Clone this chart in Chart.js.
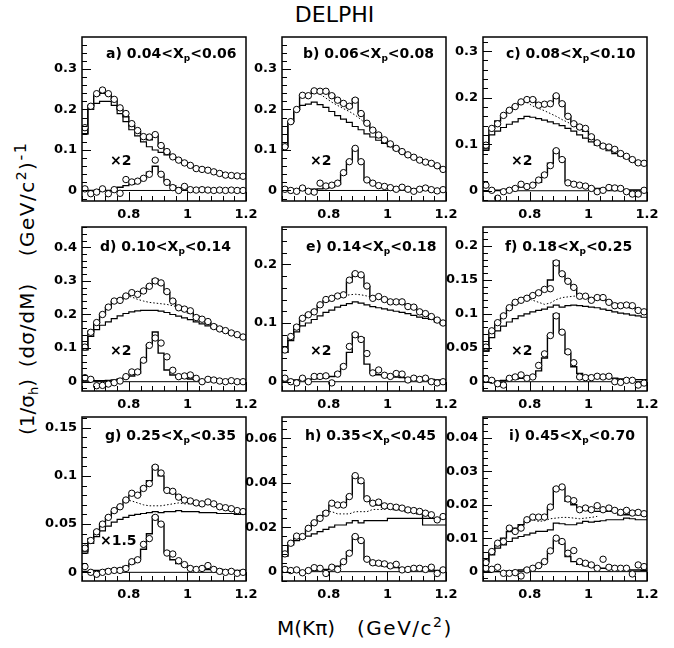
<!DOCTYPE html>
<html>
<head>
<meta charset="utf-8">
<script src="https://cdn.jsdelivr.net/npm/chart.js@4.4.1/dist/chart.umd.min.js"></script>
<style>
  body { margin: 0; background: #fff; }
  #page { position: relative; width: 674px; height: 648px; overflow: hidden; font-family: "DejaVu Sans", sans-serif; color: #000; }
  #page canvas { position: absolute; }
  .txt { position: absolute; white-space: nowrap; line-height: 1; }
  .lab { font-weight: bold; font-size: 14px; }
  .lab .sub { font-size: 9px; position: relative; top: 3px; }
  .big { font-size: 20px; }
  .big .sup { font-size: 14px; position: relative; top: -8px; }
  .big .sub { font-size: 13px; position: relative; top: 4px; }
  .rot { left: 27px; transform: translate(-50%, -50%) rotate(-90deg); }
</style>
</head>
<body>
<div id="page">
  <div class="txt" style="left:0;width:669px;text-align:center;top:4px;font-size:22px">DELPHI</div>
  <div class="txt big" style="left:277px;top:618px">M(Kπ)<span style="margin-left:22px;letter-spacing:1.5px">(GeV/c<span class="sup">2</span>)</span></div>
  <div class="txt big rot" style="top:407px">(1/σ<span class="sub">h</span>)</div>
  <div class="txt big rot" style="top:325px;letter-spacing:1px">(dσ/dM)</div>
  <div class="txt big rot" style="top:199px;letter-spacing:1.5px">(GeV/c<span class="sup">2</span>)<span class="sup" style="font-size:16px">-1</span></div>
</div>
<script>
const N = null;
const massBins = [0.65,0.67,0.69,0.71,0.73,0.75,0.77,0.79,0.81,0.83,0.85,0.87,0.89,0.91,0.93,0.95,0.97,0.99,1.01,1.03,1.05,1.07,1.09,1.11,1.13,1.15,1.17,1.19];
const binEdges = [0.64,0.66,0.68,0.70,0.72,0.74,0.76,0.78,0.80,0.82,0.84,0.86,0.88,0.90,0.92,0.94,0.96,0.98,1.00,1.02,1.04,1.06,1.08,1.10,1.12,1.14,1.16,1.18,1.20];
const xTicks = [0.8, 1, 1.2];

// a) 0.04<Xp<0.06
const ptsA = [0.155,0.208,0.239,0.248,0.239,0.225,0.204,0.19,0.165,0.148,0.133,0.132,0.138,0.111,0.096,0.083,0.075,0.068,0.062,0.054,0.052,0.05,0.046,0.042,0.038,0.037,0.036,0.035];
const fitA = [0.14,0.21,0.235,0.24,0.238,0.225,0.2,0.182,0.16,0.145,0.13,0.125,0.138,0.11,0.095,0.083,0.075,0.068,0.062,0.056,0.052,0.049,0.046,0.043,0.04,0.038,0.036,0.035];
const bkgA = [0.14,0.2,0.215,0.22,0.22,0.21,0.19,0.17,0.15,0.135,0.12,0.108,0.1,0.094,0.088,0.082,0.075,0.068,0.062,0.056,0.052,0.049,0.046,0.043,0.04,0.038,0.036,0.035];
const dotA = [];
const sigA = [0.004,-0.008,-0.004,0.004,-0.008,0.002,-0.007,0.027,0.021,0.023,0.03,0.04,0.075,0.04,0.02,0.007,0,0.01,0.002,0.001,0.002,0.001,0,0.001,0,0.001,0,0];
const sigFitA = [0,0,0,0,0,0,0.008,0.012,0.016,0.022,0.03,0.045,0.06,0.04,0.022,0.012,0.007,0.004,0.003,0.002,0.002,0.001,0.001,0.001,0,0,0,0];

// b) 0.06<Xp<0.08
const ptsB = [0.108,0.17,0.2,0.235,0.234,0.246,0.245,0.245,0.234,0.223,0.215,0.208,0.223,0.19,0.166,0.149,0.137,0.125,0.115,0.104,0.096,0.088,0.082,0.075,0.07,0.067,0.061,0.052];
const fitB = [0.108,0.17,0.2,0.235,0.238,0.245,0.245,0.244,0.235,0.222,0.213,0.205,0.226,0.19,0.165,0.148,0.135,0.124,0.114,0.104,0.096,0.088,0.082,0.075,0.07,0.065,0.06,0.053];
const bkgB = [0.108,0.17,0.2,0.21,0.213,0.218,0.212,0.205,0.195,0.185,0.176,0.168,0.158,0.15,0.14,0.132,0.124,0.116,0.108,0.1,0.094,0.087,0.081,0.075,0.07,0.065,0.06,0.053];
const dotB = [N,N,N,N,N,N,0.238,0.228,0.218,0.21,0.202,0.195,0.186,0.175,0.162,0.148,0.136,N,N,N,N,N,N,N,N,N,N,N];
const sigB = [0.003,0,-0.002,0.006,-0.002,-0.004,0.018,0.011,0.013,0.018,0.044,0.071,0.104,0.071,0.026,0.018,0.012,0.01,0.007,0.003,0.008,0.003,-0.002,0.003,0.006,0.002,-0.001,0.002];
const sigFitB = [0.001,0.001,0.001,0.002,0.002,0.003,0.004,0.006,0.009,0.015,0.04,0.072,0.104,0.072,0.026,0.018,0.013,0.011,0.009,0.007,0.006,0.005,0.004,0.004,0.003,0.003,0.002,0.002];

// c) 0.08<Xp<0.10
const ptsC = [0.098,0.134,0.144,0.162,0.173,0.181,0.191,0.196,0.196,0.184,0.186,0.187,0.204,0.187,0.16,0.144,0.137,0.134,0.116,0.103,0.096,0.094,0.089,0.08,0.074,0.067,0.06,0.059];
const fitC = [0.09,0.135,0.15,0.16,0.172,0.182,0.19,0.195,0.197,0.185,0.185,0.188,0.205,0.188,0.16,0.145,0.135,0.128,0.118,0.105,0.098,0.092,0.085,0.078,0.072,0.066,0.06,0.057];
const bkgC = [0.087,0.12,0.128,0.136,0.143,0.148,0.155,0.16,0.158,0.155,0.152,0.148,0.144,0.14,0.134,0.128,0.12,0.113,0.105,0.098,0.092,0.086,0.08,0.075,0.07,0.064,0.06,0.057];
const dotC = [N,N,N,N,N,N,N,0.19,0.182,0.177,0.172,0.166,0.16,0.153,0.147,0.14,0.135,N,N,N,N,N,N,N,N,N,N,N];
const sigC = [0.012,0.001,-0.016,-0.002,0.001,0.005,0.014,0.009,0.012,0.023,0.034,0.054,0.086,0.067,0.017,0.014,0.012,0.01,0.005,-0.002,0.001,0.007,0.006,0.005,-0.002,-0.007,-0.007,0.001];
const sigFitC = [0,0,0.001,0.002,0.004,0.006,0.008,0.01,0.012,0.018,0.036,0.059,0.087,0.069,0.019,0.014,0.01,0.008,0.006,0.005,0.004,0.004,0.003,0.003,0.002,0.002,0.002,0.002];

// d) 0.10<Xp<0.14
const ptsD = [0.103,0.147,0.176,0.2,0.222,0.24,0.242,0.255,0.265,0.26,0.27,0.284,0.3,0.294,0.268,0.24,0.22,0.216,0.211,0.191,0.186,0.179,0.164,0.157,0.152,0.145,0.14,0.133];
const fitD = [0.095,0.15,0.175,0.2,0.22,0.238,0.245,0.255,0.262,0.265,0.27,0.285,0.305,0.29,0.265,0.24,0.222,0.213,0.205,0.195,0.185,0.177,0.168,0.16,0.152,0.145,0.14,0.133];
const bkgD = [0.095,0.135,0.155,0.168,0.178,0.188,0.196,0.203,0.208,0.211,0.212,0.212,0.212,0.21,0.206,0.2,0.195,0.19,0.185,0.178,0.172,0.166,0.16,0.155,0.15,0.144,0.138,0.132];
const dotD = [N,N,N,N,N,N,0.245,0.255,0.252,0.245,0.24,0.236,0.234,0.232,0.23,0.226,0.222,0.215,N,N,N,N,N,N,N,N,N,N];
const sigD = [0.012,0.007,-0.012,-0.011,-0.007,-0.003,0.002,0.015,0.029,0.029,0.064,0.108,0.13,0.115,0.074,0.034,0.015,0.017,0.02,0.01,0,0.007,0.005,0.002,0,0.003,0,0];
const sigFitD = [0.005,0.004,0.003,0.003,0.004,0.005,0.008,0.012,0.017,0.025,0.06,0.11,0.148,0.085,0.035,0.02,0.013,0.01,0.008,0.007,0.006,0.005,0.005,0.004,0.004,0.004,0.003,0.003];

// e) 0.14<Xp<0.18
const ptsE = [0.054,0.077,0.093,0.108,0.114,0.119,0.131,0.14,0.142,0.146,0.148,0.173,0.184,0.182,0.163,0.142,0.145,0.14,0.136,0.136,0.136,0.128,0.127,0.119,0.116,0.111,0.105,0.1];
const fitE = [0.05,0.075,0.095,0.108,0.115,0.12,0.13,0.138,0.142,0.145,0.148,0.17,0.185,0.18,0.162,0.143,0.143,0.14,0.137,0.135,0.133,0.13,0.127,0.12,0.116,0.111,0.105,0.1];
const bkgE = [0.05,0.07,0.085,0.095,0.1,0.106,0.112,0.118,0.122,0.127,0.13,0.133,0.136,0.134,0.131,0.128,0.126,0.124,0.122,0.12,0.118,0.116,0.113,0.11,0.108,0.106,0.102,0.098];
const dotE = [N,N,N,N,N,N,N,N,N,0.145,0.146,0.148,0.149,0.148,0.146,0.143,0.142,N,N,N,N,N,N,N,N,N,N,N];
const sigE = [0.006,0,-0.002,0.006,0,0.009,0.009,0.01,-0.002,0.013,0.026,0.06,0.08,0.072,0.048,0.015,0.02,0.011,0.009,0.014,0.013,0.003,0.006,0.004,0.006,0,-0.002,0];
const sigFitE = [0.002,0.002,0.003,0.004,0.004,0.005,0.006,0.007,0.009,0.015,0.028,0.05,0.082,0.075,0.03,0.015,0.012,0.01,0.009,0.008,0.007,0.006,0.005,0.005,0.004,0.004,0.003,0.003];

// f) 0.18<Xp<0.25
const ptsF = [0.051,0.075,0.087,0.097,0.109,0.117,0.12,0.123,0.127,0.131,0.136,0.137,0.175,0.159,0.148,0.139,0.126,0.126,0.12,0.124,0.124,0.117,0.112,0.112,0.113,0.112,0.105,0.103];
const fitF = [0.045,0.075,0.088,0.098,0.108,0.116,0.121,0.124,0.128,0.132,0.137,0.15,0.178,0.16,0.148,0.138,0.128,0.126,0.123,0.123,0.121,0.118,0.115,0.113,0.111,0.109,0.106,0.103];
const bkgF = [0.045,0.065,0.075,0.082,0.088,0.093,0.097,0.1,0.103,0.105,0.107,0.11,0.113,0.11,0.112,0.113,0.112,0.111,0.11,0.109,0.107,0.105,0.103,0.101,0.1,0.098,0.097,0.095];
const dotF = [N,N,N,N,N,N,N,0.123,0.12,0.117,0.114,0.116,0.121,0.124,0.125,0.126,0.127,0.126,0.124,N,N,N,N,N,N,N,N,N];
const sigF = [0.004,0.002,-0.003,-0.005,0.005,0.007,0.01,0.005,0.007,0.024,0.041,0.068,0.097,0.073,0.044,0.028,0.007,0.006,0.006,0.008,0.007,0.008,0,-0.001,0.002,0.002,-0.005,-0.002];
const sigFitF = [0,0,0.001,0.002,0.003,0.004,0.005,0.006,0.008,0.016,0.035,0.068,0.1,0.072,0.042,0.022,0.012,0.009,0.008,0.007,0.006,0.005,0.005,0.004,0.004,0.003,0.003,0.003];

// g) 0.25<Xp<0.35
const ptsG = [0.025,0.033,0.042,0.05,0.057,0.064,0.068,0.075,0.082,0.08,0.087,0.092,0.109,0.103,0.085,0.084,0.078,0.075,0.074,0.072,0.071,0.073,0.071,0.068,0.067,0.066,0.064,0.063];
const fitG = [0.022,0.035,0.043,0.05,0.057,0.063,0.068,0.075,0.08,0.08,0.088,0.095,0.11,0.1,0.085,0.082,0.078,0.076,0.074,0.072,0.071,0.071,0.07,0.068,0.067,0.065,0.064,0.063];
const bkgG = [0.02,0.03,0.037,0.043,0.048,0.052,0.055,0.057,0.059,0.06,0.061,0.062,0.063,0.062,0.063,0.063,0.064,0.063,0.063,0.063,0.062,0.062,0.062,0.061,0.061,0.061,0.06,0.06];
const dotG = [N,N,N,N,N,N,N,0.075,0.074,0.072,0.07,0.069,0.069,0.069,0.07,0.071,0.072,0.071,0.071,0.071,0.071,N,N,N,N,N,N,N];
const sigG = [0.006,0,-0.002,0,0.001,0.002,0.002,0.004,0.011,0.013,0.029,0.035,0.057,0.05,0.02,0.019,0.012,0.008,0.004,0.003,0.004,0.007,0.003,0.001,0,0.001,-0.001,0];
const sigFitG = [0.001,0.001,0.002,0.002,0.003,0.003,0.004,0.006,0.009,0.014,0.024,0.04,0.058,0.05,0.021,0.013,0.009,0.007,0.005,0.004,0.004,0.003,0.003,0.003,0.002,0.002,0.002,0.002];

// h) 0.35<Xp<0.45
const ptsH = [0.008,0.0128,0.016,0.0158,0.0195,0.022,0.024,0.0263,0.0308,0.03,0.03,0.0338,0.0432,0.0409,0.0328,0.0308,0.0313,0.0296,0.0293,0.029,0.0286,0.0278,0.0275,0.0271,0.0263,0.0256,0.0233,0.0248];
const fitH = [0.007,0.013,0.016,0.016,0.019,0.022,0.025,0.027,0.03,0.03,0.03,0.034,0.043,0.04,0.033,0.031,0.03,0.029,0.029,0.028,0.028,0.027,0.027,0.026,0.024,0.024,0.024,0.024];
const bkgH = [0.007,0.012,0.014,0.015,0.016,0.017,0.018,0.019,0.02,0.021,0.021,0.022,0.023,0.022,0.023,0.023,0.023,0.023,0.024,0.024,0.024,0.024,0.024,0.024,0.021,0.021,0.021,0.021];
const dotH = [N,N,N,N,N,N,N,0.027,0.027,0.026,0.026,0.026,0.027,0.027,0.027,0.028,0.028,0.028,0.029,N,N,N,N,N,N,N,N,N];
const sigH = [0.001,0.0005,0.0008,-0.0005,0.0005,0.0018,0.0015,-0.0008,0.002,0.001,0.0045,0.0083,0.0158,0.014,0.0056,0.004,0.0038,0.0035,0.0026,0.0033,0.0008,0.001,0.0015,0.0015,0.001,0.002,-0.0008,0.0008];
const sigFitH = [0,0,0,0.0002,0.0004,0.0006,0.0008,0.001,0.0015,0.0025,0.0045,0.009,0.016,0.014,0.0055,0.0035,0.003,0.0025,0.002,0.0018,0.0015,0.0012,0.001,0.001,0.0008,0.0007,0.0006,0.0005];

// i) 0.45<Xp<0.70
const ptsI = [0.0027,0.006,0.0085,0.009,0.013,0.012,0.013,0.0155,0.0163,0.0163,0.0163,0.0193,0.0247,0.0253,0.0217,0.0212,0.0185,0.019,0.0185,0.0197,0.0185,0.019,0.0183,0.0177,0.0183,0.0175,0.0177,0.0173];
const fitI = [0.003,0.006,0.008,0.01,0.012,0.013,0.014,0.015,0.016,0.016,0.016,0.019,0.025,0.025,0.021,0.02,0.019,0.019,0.018,0.018,0.018,0.018,0.018,0.017,0.017,0.017,0.017,0.017];
const bkgI = [0.003,0.005,0.007,0.008,0.009,0.01,0.0105,0.011,0.0115,0.012,0.012,0.0125,0.0145,0.0143,0.014,0.014,0.0145,0.015,0.0148,0.015,0.0152,0.0155,0.0155,0.0155,0.016,0.0158,0.0155,0.0155];
const dotI = [N,N,N,N,N,N,N,0.0155,0.0155,0.015,0.0152,0.0158,0.016,0.0162,0.0162,0.016,0.0158,0.016,0.0162,0.0165,N,N,N,N,N,N,N,N];
const sigI = [0.001,0.0007,0.0013,-0.0005,-0.0005,-0.0003,-0.0013,0.0005,0.001,0.0018,0.003,0.0062,0.01,0.009,0.0055,0.0063,0.003,0.0025,0.002,0.001,0.0037,0.0013,0.001,0.001,0.001,-0.0007,0.002,0.0015];
const sigFitI = [0,0,0,0,0.0002,0.0003,0.0005,0.0008,0.001,0.0018,0.003,0.006,0.0095,0.0085,0.0045,0.003,0.0022,0.0018,0.0015,0.0012,0.001,0.0009,0.0008,0.0007,0.0006,0.0005,0.0005,0.0004];

const panelLabels = ['a) 0.04&lt;X<span class="sub">p</span>&lt;0.06','b) 0.06&lt;X<span class="sub">p</span>&lt;0.08','c) 0.08&lt;X<span class="sub">p</span>&lt;0.10',
  'd) 0.10&lt;X<span class="sub">p</span>&lt;0.14','e) 0.14&lt;X<span class="sub">p</span>&lt;0.18','f) 0.18&lt;X<span class="sub">p</span>&lt;0.25',
  'g) 0.25&lt;X<span class="sub">p</span>&lt;0.35','h) 0.35&lt;X<span class="sub">p</span>&lt;0.45','i) 0.45&lt;X<span class="sub">p</span>&lt;0.70'];
const scaleLabels = ['×2','×2','×2','×2','×2','×2','×1.5','',''];
const yMin = [-0.026,-0.026,-0.022,-0.0277,-0.0158,-0.0137,-0.009,-0.0042,-0.0028];
const yMax = [0.379,0.379,0.3305,0.4604,0.2635,0.228,0.1611,0.0696,0.0462];
const yTicks = [[0,0.1,0.2,0.3],[0,0.1,0.2,0.3],[0,0.1,0.2,0.3],[0,0.1,0.2,0.3,0.4],[0,0.1,0.2],[0,0.05,0.1,0.15,0.2],[0,0.05,0.1,0.15],[0,0.02,0.04,0.06],[0,0.01,0.02,0.03,0.04]];
const yMajor = [0.1,0.1,0.1,0.1,0.1,0.05,0.05,0.02,0.01];

const upper = [ptsA,ptsB,ptsC,ptsD,ptsE,ptsF,ptsG,ptsH,ptsI];
const fits = [fitA,fitB,fitC,fitD,fitE,fitF,fitG,fitH,fitI];
const bkgs = [bkgA,bkgB,bkgC,bkgD,bkgE,bkgF,bkgG,bkgH,bkgI];
const dots = [dotA,dotB,dotC,dotD,dotE,dotF,dotG,dotH,dotI];
const sigs = [sigA,sigB,sigC,sigD,sigE,sigF,sigG,sigH,sigI];
const sigFits = [sigFitA,sigFitB,sigFitC,sigFitD,sigFitE,sigFitF,sigFitG,sigFitH,sigFitI];

const colLeft = [82, 282, 483];
const rowTop = [37, 227, 417];
const plotW = 164, plotH = 164;
const labelDx = [24, 21, 23, 18, 24, 22, 23, 23, 26];
const labelDy = [16, 16, 16, 19, 19, 19, 18, 18, 18];

function histPoints(vals) {
  const d = vals.map((v, i) => ({x: binEdges[i], y: v}));
  d.push({x: binEdges[vals.length], y: vals[vals.length - 1]});
  return d;
}
function markers(vals) {
  return vals.map((v, i) => v == null ? null : {x: massBins[i], y: v}).filter(p => p);
}
function tickList(min, max, step) {
  const out = [];
  for (let k = Math.ceil(min / step - 1e-9); k * step <= max + 1e-9; k++) out.push(k * step);
  return out;
}

const frameTicks = {
  id: 'frameTicks',
  afterDatasetsDraw(chart, args, o) {
    const {ctx, chartArea: a, scales: {x, y}} = chart;
    ctx.save();
    ctx.strokeStyle = '#000';
    ctx.lineWidth = 1;
    ctx.beginPath();
    tickList(x.min, x.max, o.xMinor).forEach(v => {
      const major = Math.abs(v / o.xMajor - Math.round(v / o.xMajor)) < 1e-6;
      const px = Math.round(x.getPixelForValue(v)) + 0.5;
      ctx.moveTo(px, a.bottom);
      ctx.lineTo(px, a.bottom - (major ? 9 : 5));
    });
    tickList(y.min, y.max, o.yMinor).forEach(v => {
      const major = Math.abs(v / o.yMajor - Math.round(v / o.yMajor)) < 1e-6;
      const py = Math.round(y.getPixelForValue(v)) + 0.5;
      ctx.moveTo(a.left, py);
      ctx.lineTo(a.left + (major ? 9 : 5), py);
    });
    ctx.stroke();
    ctx.lineWidth = 1.5;
    ctx.strokeRect(a.left, a.top, a.right - a.left, a.bottom - a.top);
    ctx.restore();
  }
};

const page = document.getElementById('page');
const fmt = v => String(+v.toFixed(4));

for (let p = 0; p < 9; p++) {
  const L = colLeft[p % 3], T = rowTop[Math.floor(p / 3)];
  const cv = document.createElement('canvas');
  cv.width = 50 + plotW + 15;
  cv.height = 10 + plotH + 26;
  cv.style.left = (L - 50) + 'px';
  cv.style.top = (T - 10) + 'px';
  page.appendChild(cv);

  const lab = document.createElement('div');
  lab.className = 'txt lab';
  lab.innerHTML = panelLabels[p];
  lab.style.left = (L + labelDx[p]) + 'px';
  lab.style.top = (T + labelDy[p] - 7) + 'px';
  page.appendChild(lab);

  if (scaleLabels[p]) {
    const sl = document.createElement('div');
    sl.className = 'txt lab';
    sl.textContent = scaleLabels[p];
    sl.style.left = (L + (p === 6 ? 18 : 28)) + 'px';
    sl.style.top = (T + 123 - 7) + 'px';
    page.appendChild(sl);
  }

  const line = {borderColor: '#000', pointRadius: 0, fill: false, order: 1};
  const marker = {showLine: false, pointRadius: 3.2, pointBorderWidth: 1, pointBorderColor: '#000', pointBackgroundColor: '#fff', order: 0};

  new Chart(cv, {
    type: 'line',
    data: {
      datasets: [
        {...marker, data: markers(upper[p])},
        {...marker, data: markers(sigs[p])},
        {...line, data: histPoints(fits[p]), stepped: true, borderWidth: 1.4},
        {...line, data: histPoints(bkgs[p]), stepped: true, borderWidth: 1.2},
        {...line, data: markers(dots[p]), borderWidth: 1, borderDash: [1.5, 2]},
        {...line, data: histPoints(sigFits[p]), stepped: true, borderWidth: 1.4},
        {...line, data: [{x: 0.64, y: 0}, {x: 1.2, y: 0}], borderWidth: 1}
      ]
    },
    options: {
      responsive: false,
      animation: false,
      events: [],
      layout: {padding: {top: 10, right: 15, bottom: 0, left: 0}},
      plugins: {
        legend: {display: false},
        tooltip: {enabled: false},
        frameTicks: {xMajor: 0.2, xMinor: 0.04, yMajor: yMajor[p], yMinor: yMajor[p] / 5}
      },
      scales: {
        x: {
          type: 'linear', min: 0.64, max: 1.2,
          grid: {display: false, drawTicks: false},
          border: {display: false},
          afterBuildTicks: s => { s.ticks = xTicks.map(v => ({value: v})); },
          afterFit: s => { s.height = 26; s.paddingLeft = 0; s.paddingRight = 0; },
          ticks: {padding: 6, maxRotation: 0, color: '#000', font: {family: 'DejaVu Sans', size: 13, weight: 'bold'}, callback: fmt}
        },
        y: {
          type: 'linear', min: yMin[p], max: yMax[p],
          grid: {display: false, drawTicks: false},
          border: {display: false},
          afterBuildTicks: s => { s.ticks = yTicks[p].map(v => ({value: v})); },
          afterFit: s => { s.width = 50; s.paddingTop = 0; s.paddingBottom = 0; },
          ticks: {padding: 5, color: '#000', font: {family: 'DejaVu Sans', size: 13, weight: 'bold'}, callback: fmt}
        }
      }
    },
    plugins: [frameTicks]
  });
}
</script>
</body>
</html>
